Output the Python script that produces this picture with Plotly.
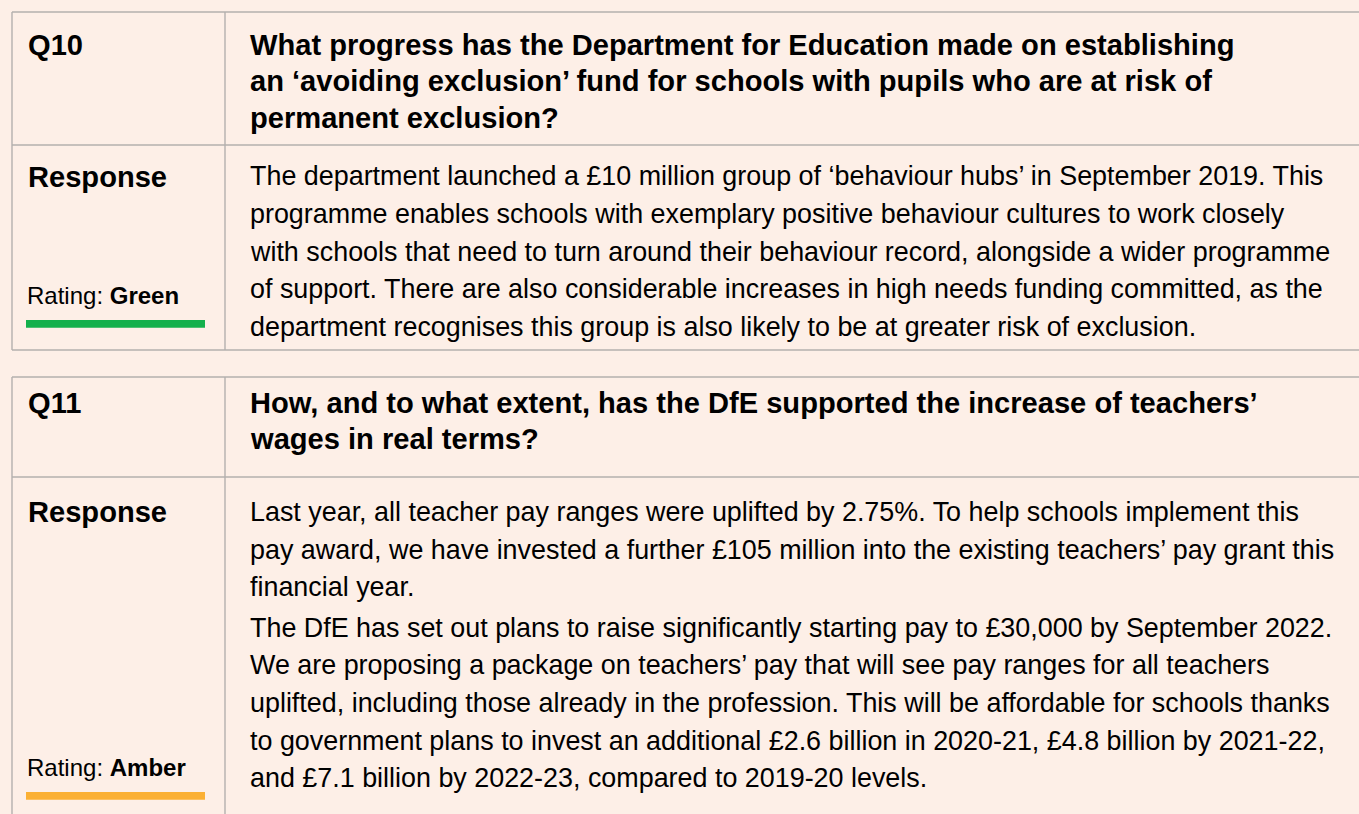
import plotly.graph_objects as go

# ---------------- content ----------------
question_ids = ["Q10", "Q11"]
question_lines = [
    ["What progress has the Department for Education made on establishing",
     "an \u2018avoiding exclusion\u2019 fund for schools with pupils who are at risk of",
     "permanent exclusion?"],
    ["How, and to what extent, has the DfE supported the increase of teachers\u2019",
     "wages in real terms?"],
]
response_paragraphs = [
    [["The department launched a \u00a310 million group of \u2018behaviour hubs\u2019 in September 2019. This",
      "programme enables schools with exemplary positive behaviour cultures to work closely",
      "with schools that need to turn around their behaviour record, alongside a wider programme",
      "of support. There are also considerable increases in high needs funding committed, as the",
      "department recognises this group is also likely to be at greater risk of exclusion."]],
    [["Last year, all teacher pay ranges were uplifted by 2.75%. To help schools implement this",
      "pay award, we have invested a further \u00a3105 million into the existing teachers\u2019 pay grant this",
      "financial year."],
     ["The DfE has set out plans to raise significantly starting pay to \u00a330,000 by September 2022.",
      "We are proposing a package on teachers\u2019 pay that will see pay ranges for all teachers",
      "uplifted, including those already in the profession. This will be affordable for schools thanks",
      "to government plans to invest an additional \u00a32.6 billion in 2020-21, \u00a34.8 billion by 2021-22,",
      "and \u00a37.1 billion by 2022-23, compared to 2019-20 levels."]],
]
response_label = "Response"
rating_prefix = "Rating: "
ratings = ["Green", "Amber"]
rating_colors = ["#14b04c", "#fbb034"]

# ---------------- layout / style ----------------
W, H = 1359, 814
BG = "#fdefe7"
LINE = "#b3b0ae"
FONT = "Liberation Sans, Arial, Helvetica, sans-serif"
BODY_SIZE = 26.9
HEAD_SIZE = 29.1
RATE_SIZE = 24

LEFT, DIV = 12, 225
COL1_TX, COL2_TX = 27, 249
blocks = [
    dict(top=12, hdr=145, bot=350, head_base=55, head_step=36.6,
         body_base=185.7, body_step=37.7, para_gap=2.8, resp_base=187, rate_base=304.3, bar_y=320),
    dict(top=377, hdr=477, bot=None, head_base=413, head_step=36.6,
         body_base=521.7, body_step=37.6, para_gap=2.8, resp_base=522, rate_base=776, bar_y=792),
]
BAR_X0, BAR_X1, BAR_H = 26, 205, 7.7

def ycenter(baseline, size):
    # middle of the text box sits ~0.35em above baseline for Liberation Sans
    return baseline - 0.35 * size

fig = go.Figure()
shapes, annotations = [], []

def hline(y, x0=LEFT, x1=W + 5):
    shapes.append(dict(type="line", xref="x", yref="y", x0=x0, x1=x1, y0=y, y1=y,
                       line=dict(color=LINE, width=1.4)))

def vline(x, y0, y1):
    shapes.append(dict(type="line", xref="x", yref="y", x0=x, x1=x, y0=y0, y1=y1,
                       line=dict(color=LINE, width=1.4)))

def text(x, baseline, s, size, bold=False):
    annotations.append(dict(
        x=x, y=ycenter(baseline, size), xref="x", yref="y",
        text=("<b>%s</b>" % s) if bold else s, showarrow=False,
        xanchor="left", yanchor="middle", align="left", borderpad=0,
        font=dict(family=FONT, size=size, color="#000000")))

for i, b in enumerate(blocks):
    bottom = b["bot"] if b["bot"] is not None else H + 5
    hline(b["top"])
    hline(b["hdr"])
    if b["bot"] is not None:
        hline(b["bot"])
    vline(LEFT, b["top"], bottom)
    vline(DIV, b["top"], bottom)

    # header row
    text(COL1_TX, b["head_base"], question_ids[i], HEAD_SIZE, bold=True)
    for k, ln in enumerate(question_lines[i]):
        text(COL2_TX, b["head_base"] + k * b["head_step"], ln, HEAD_SIZE, bold=True)

    # response row
    text(COL1_TX, b["resp_base"], response_label, HEAD_SIZE, bold=True)
    y = b["body_base"]
    for p, para in enumerate(response_paragraphs[i]):
        if p > 0:
            y += b["para_gap"]
        for ln in para:
            text(COL2_TX, y, ln, BODY_SIZE)
            y += b["body_step"]

    # rating
    text(COL1_TX - 1, b["rate_base"], rating_prefix + "<b>" + ratings[i] + "</b>", RATE_SIZE)
    shapes.append(dict(type="rect", xref="x", yref="y", x0=BAR_X0, x1=BAR_X1,
                       y0=b["bar_y"], y1=b["bar_y"] + BAR_H,
                       fillcolor=rating_colors[i], line=dict(width=0)))

fig.update_layout(
    width=W, height=H, margin=dict(l=0, r=0, t=0, b=0),
    paper_bgcolor=BG, plot_bgcolor=BG, showlegend=False,
    xaxis=dict(range=[0, W], visible=False, fixedrange=True),
    yaxis=dict(range=[H, 0], visible=False, fixedrange=True),
    shapes=shapes, annotations=annotations,
)
fig.write_html(
    "out.html",
    config={"displayModeBar": False},
    post_script="document.body.style.margin='0';document.body.style.overflow='hidden';"
                "document.body.style.background='%s';" % BG,
)
